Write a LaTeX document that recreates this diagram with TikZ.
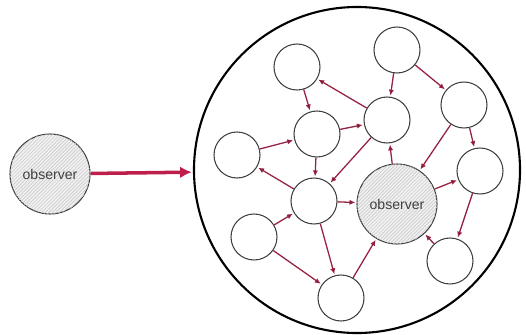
\documentclass[tikz,border=0pt]{standalone}
\usepackage{fontspec}
\setmainfont{Liberation Sans}
\usetikzlibrary{positioning,arrows,arrows.meta,patterns}
\definecolor{linkred}{RGB}{150,35,65}
\definecolor{feedred}{RGB}{190,30,75}

\begin{document}
\begin{tikzpicture}[x=0.03cm,y=-0.03cm,>=latex',shorten >=1pt]
    \tikzstyle{agent}=[circle,draw=black!75,line width=0.9pt,minimum size=1.38cm,inner sep=0pt]
    \tikzstyle{observer}=[agent,minimum size=2.4cm,fill=gray!12,postaction={pattern=north east lines,pattern color=gray!45},font=\fontsize{12}{14}\selectfont,text=black!75]
    \tikzstyle{world}=[circle,draw=black,line width=1.8pt,minimum size=9.78cm,inner sep=0pt]
    \tikzstyle{edge}=[-{Latex[length=5pt,width=4.5pt]},draw=linkred,line width=1.1pt]
    \tikzstyle{feed}=[-{Latex[length=10pt,width=10pt]},draw=feedred,line width=3pt]

    \useasboundingbox (0,0) rectangle (526,335);

    \node[world] (world) at (357,170) {};
    \node[observer] (obsL) at (50,174) {observer};

    \node[agent] (a) at (297,67) {};
    \node[agent] (b) at (397,50) {};
    \node[agent] (c) at (317,134) {};
    \node[agent] (d) at (387,120) {};
    \node[agent] (e) at (464,105) {};
    \node[agent] (f) at (237,155) {};
    \node[agent] (g) at (480,171) {};
    \node[agent] (h) at (314,201) {};
    \node[agent] (i) at (254,237) {};
    \node[agent] (j) at (341,298) {};
    \node[agent] (k) at (450,261) {};
    \node[observer] (obsR) at (397,204) {observer};

    \draw[feed] (obsL) -- (world);

    \draw[edge] (a) edge (c);
    \draw[edge] (d) edge (a);
    \draw[edge] (c) edge (d);
    \draw[edge] (f) edge (c);
    \draw[edge] (b) edge (d);
    \draw[edge] (b) edge (e);
    \draw[edge] (e) edge (obsR);
    \draw[edge] (e) edge (g);
    \draw[edge] (obsR) edge (d);
    \draw[edge] (c) edge (h);
    \draw[edge] (d) edge (h);
    \draw[edge] (h) edge (f);
    \draw[edge] (h) edge (obsR);
    \draw[edge] (i) edge (h);
    \draw[edge] (i) edge (j);
    \draw[edge] (h) edge (j);
    \draw[edge] (j) edge (obsR);
    \draw[edge] (obsR) edge (g);
    \draw[edge] (g) edge (k);
    \draw[edge] (k) edge (obsR);
\end{tikzpicture}
\end{document}
